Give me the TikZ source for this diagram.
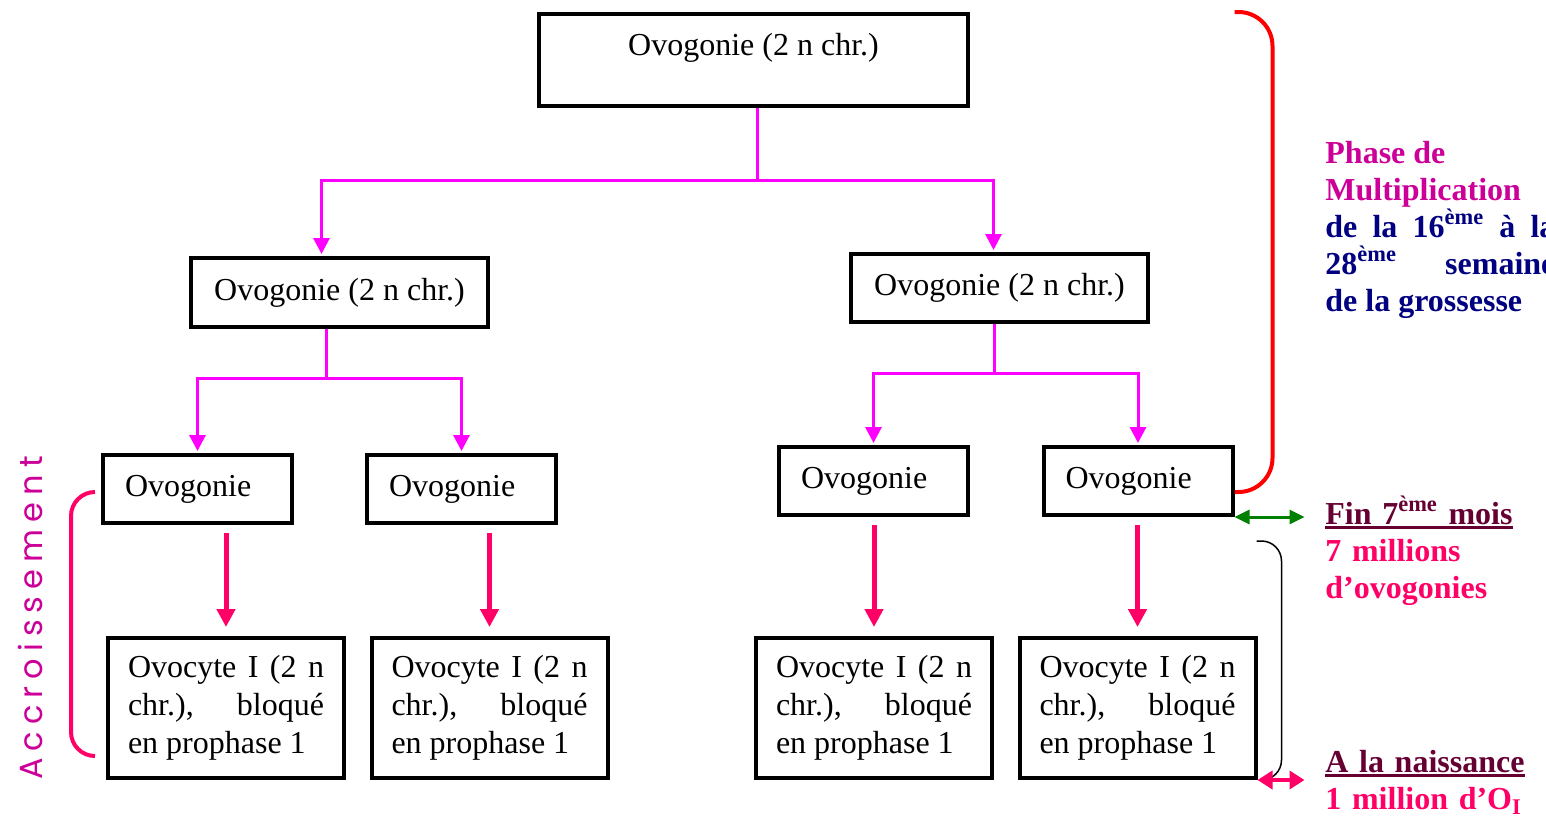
\documentclass[tikz,border=0pt]{standalone}
\usepackage{fontspec}
\setmainfont{Liberation Serif}
\newfontfamily\handfont{Poppins}[LetterSpace=22]
\usepackage{tikz}
\usetikzlibrary{positioning}
\usetikzlibrary{arrows.meta}

\definecolor{linkpink}{HTML}{FF00FF}
\definecolor{growpink}{HTML}{FF0066}
\definecolor{titlepink}{HTML}{CC0099}
\definecolor{weeknavy}{HTML}{000080}
\definecolor{datemaroon}{HTML}{660033}
\definecolor{stagegreen}{HTML}{008000}

\newcommand{\thickul}[1]{\leavevmode\vtop{\hbox{#1}\kern1pt\hrule height 1.5pt}}
\newcommand{\ocytext}{Ovocyte I (2 n\linebreak chr.), bloqué\linebreak en prophase 1}

\begin{document}
\begin{tikzpicture}[x=0.5pt,y=-0.5pt,font=\fontsize{16}{19}\selectfont,
		cell/.style={draw,rectangle,line width=2pt,inner ysep=0pt},
		ovocell/.style={cell,inner xsep=11pt,text width=72.5pt,minimum height=34pt,align=left},
		ocycell/.style={cell,inner xsep=10pt,text width=98pt,minimum height=70pt,align=justify},
		stemline/.style={draw=linkpink,line width=1.5pt},
		splitarrow/.style={stemline,-{Triangle[width=8pt,length=8pt]},shorten >=1pt},
		growarrow/.style={draw=growpink,line width=2.5pt,-{Triangle[width=9pt,length=9pt]},shorten <=4pt,shorten >=4.5pt},
		brace/.style={line width=2pt,rounded corners=17pt},
		sidetext/.style={anchor=base west,inner sep=0pt,align=left,font=\fontsize{16}{18.5}\selectfont\bfseries}]
		\useasboundingbox (0,0) rectangle (1546,820);
		% multiplication
		\node[cell,minimum width=214.5pt,text height=20.5pt,text depth=25.5pt] at (753.5,60) (top) {Ovogonie (2 n chr.)};
		\node[cell,minimum width=148.5pt,minimum height=34.5pt] at (339.5,292.5) (ovoL) {Ovogonie (2 n chr.)};
		\node[cell,minimum width=148.5pt,minimum height=34pt] at (999.5,288) (ovoR) {Ovogonie (2 n chr.)};
		\node[ovocell] at (197.5,489) (ovoLL) {Ovogonie};
		\node[ovocell] at (461.5,489) (ovoLR) {Ovogonie};
		\node[ovocell] at (873.5,481) (ovoRL) {Ovogonie};
		\node[ovocell] at (1138,481) (ovoRR) {Ovogonie};
		% accroissement
		\node[ocycell] at (226,708) (ocyLL) {\ocytext};
		\node[ocycell] at (489.5,708) (ocyLR) {\ocytext};
		\node[ocycell] at (874,708) (ocyRL) {\ocytext};
		\node[ocycell] at (1137.5,708) (ocyRR) {\ocytext};
		
		\draw[stemline] ([xshift=1.75pt]top.south) -- ++(0,72) coordinate (j1);
		\draw[splitarrow] (j1) -| ([xshift=-9pt]ovoL.north);
		\draw[splitarrow] (j1) -| ([xshift=-3pt]ovoR.north);
		\draw[stemline] ([xshift=-6.75pt]ovoL.south) -- ++(0,49) coordinate (j2);
		\draw[splitarrow] (j2) -| (ovoLL.north);
		\draw[splitarrow] (j2) -| (ovoLR.north);
		\draw[stemline] ([xshift=-2.75pt]ovoR.south) -- ++(0,49) coordinate (j3);
		\draw[splitarrow] (j3) -| (ovoRL.north);
		\draw[splitarrow] (j3) -| (ovoRR.north);
		
		\draw[growarrow] (ocyLL.north |- ovoLL.south) -- (ocyLL.north);
		\draw[growarrow] (ocyLR.north |- ovoLR.south) -- (ocyLR.north);
		\draw[growarrow] (ocyRL.north |- ovoRL.south) -- (ocyRL.north);
		\draw[growarrow] (ocyRR.north |- ovoRR.south) -- (ocyRR.north);
		
		% brackets and dates
		\draw[brace,red] (ovoRR.east |- top.north) -| ([xshift=19pt,yshift=-5.5pt]ovoRR.east) -- ([yshift=-5.5pt]ovoRR.east);
		\coordinate (accTop) at ([shift={(-3pt,-1.5pt)}]ovoLL.west);
		\coordinate (accBot) at ([shift={(-5.5pt,-24pt)}]ocyLL.west);
		\draw[brace,growpink,rounded corners=12pt] (accTop) -- ++(-12pt,0) |- (accBot);
		\draw[line width=0.75pt,rounded corners=10pt] ([shift={(11pt,-12pt)}]ovoRR.south east) -| ([xshift=12pt]ocyRR.south east) -- ([xshift=2pt]ocyRR.south east);
		\coordinate[right=35pt of ovoRR.south east] (fin7);
		\draw[stagegreen,line width=1.5pt,{Triangle[width=7pt,length=7.5pt]}-{Triangle[width=7pt,length=7.5pt]}] (ovoRR.south east) -- (fin7);
		\coordinate[right=23.5pt of ocyRR.south east] (birth);
		\draw[growpink,line width=2pt,{Triangle[width=9pt,length=7.5pt]}-{Triangle[width=9pt,length=7.5pt]}] (ocyRR.south east) -- (birth);
		
		\node[rotate=90,text=titlepink,font=\handfont\fontsize{16}{19}\selectfont] at (30,618) (accr) {Accroissement};
		\node[sidetext,text width=115pt,align=justify] at (1325,163) (phase) {{\color{titlepink}Phase de\\Multiplication\\}\color{weeknavy}de la 16\textsuperscript{ème} à la\linebreak 28\textsuperscript{ème} semaine\linebreak de la grossesse};
		\node[sidetext,text width=110pt] at (1325,524) (fin) {\textcolor{datemaroon}{\thickul{Fin 7\textsuperscript{ème} mois}}\\\textcolor{growpink}{7 millions}\\\textcolor{growpink}{d’ovogonies}};
		\node[sidetext,text width=110pt] at (1325,772) (naiss) {\textcolor{datemaroon}{\thickul{A la naissance}}\\\textcolor{growpink}{1 million d’O\textsubscript{I}}};
	\end{tikzpicture}
\end{document}
